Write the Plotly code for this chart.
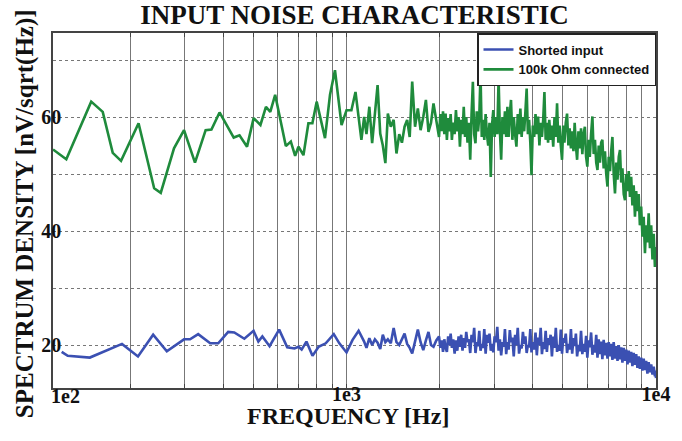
import plotly.graph_objects as go

# ---------------- data ----------------
green_low_freq = [112.6, 124.3, 149.6, 163, 175.6, 186.8, 212.8, 239, 251, 277,
                  298.5, 323.8, 350.5, 366, 388.8, 432, 451, 477, 501, 527,
                  549, 567, 588, 636.6, 660.7, 682.3, 699.3, 725.7, 753, 775.7,
                  800.8, 852, 884.4, 917.6, 963.6, 1000, 1037, 1069, 1117]
green_low_vals = [54.3, 52.6, 62.7, 60.9, 53.7, 52.3, 58.9, 47.5, 46.7, 54.5,
                  57.7, 52.0, 57.7, 57.8, 60.8, 56.4, 56.8, 54.8, 59.8, 58.6,
                  61.8, 60.9, 63.9, 54.9, 55.7, 53.2, 54.8, 53.3, 58.9, 58.9,
                  62.7, 56.3, 63.9, 68.2, 58.6, 61.2, 61.2, 64.4, 56.0]

blue_low_freq = [120.1, 125.6, 148.1, 188.1, 211.9, 237.2, 262.6, 298.5, 312.1, 331.6,
                 362.6, 385, 414.6, 433.8, 467.5, 500.6, 518.9, 534.6, 564.1, 605.7,
                 643.3, 678.9, 699.3, 716.1, 742, 776.2, 812.3, 856.6, 909.6, 947.9,
                 1000, 1046, 1094]
blue_low_vals = [18.8, 18.1, 17.8, 20.2, 18.0, 21.8, 18.9, 21.0, 21.0, 21.9,
                 20.3, 20.3, 22.3, 22.2, 21.1, 22.5, 20.6, 21.5, 19.8, 22.7,
                 19.6, 19.4, 19.7, 19.2, 20.6, 18.1, 19.7, 20.3, 21.9, 20.3,
                 18.7, 20.9, 22.5]

mid_freq = [1140, 1160, 1185, 1210, 1235, 1260, 1285, 1310, 1335, 1360,
            1390, 1420, 1450, 1480, 1510, 1540, 1570, 1600, 1630, 1665,
            1700, 1735, 1770, 1805, 1840, 1875, 1910, 1950]
green_mid_vals = [60.0, 57.0, 61.8, 55.4, 60.0, 65.6, 57.1, 55.0, 51.9, 60.6,
                  58.3, 59.5, 53.6, 57.0, 55.5, 58.3, 59.5, 56.5, 66.2, 58.3,
                  61.5, 57.7, 60.0, 63.0, 57.4, 59.0, 62.4, 59.2]
blue_mid_vals = [20.6, 19.5, 21.2, 20.0, 21.0, 20.4, 19.3, 21.8, 20.5, 21.0,
                 20.3, 23.0, 20.5, 20.0, 21.0, 22.0, 20.2, 19.5, 18.5, 20.5,
                 22.7, 20.5, 19.1, 20.8, 22.3, 20.0, 19.7, 20.8]

hi_freq = [1990, 2010, 2030, 2050, 2070, 2090, 2110, 2130, 2150, 2170,
           2190, 2212, 2235, 2257, 2280, 2302, 2325, 2347, 2370, 2392,
           2415, 2437, 2460, 2485, 2510, 2535, 2560, 2585, 2610, 2635,
           2660, 2685, 2710, 2735, 2760, 2787, 2815, 2842, 2870, 2897,
           2925, 2952, 2980, 3010, 3040, 3070, 3100, 3130, 3160, 3190,
           3220, 3250, 3280, 3310, 3340, 3370, 3400, 3435, 3470, 3505,
           3540, 3575, 3610, 3645, 3680, 3715, 3750, 3785, 3820, 3855,
           3890, 3925, 3960, 4000, 4040, 4080, 4120, 4160, 4200, 4240,
           4280, 4320, 4360, 4400, 4440, 4480, 4520, 4565, 4610, 4655,
           4700, 4745, 4790, 4835, 4880, 4925, 4970, 5015, 5060, 5110,
           5160, 5210, 5260, 5310, 5360, 5410, 5460, 5510, 5560, 5615,
           5670, 5725, 5780, 5835, 5890, 5945, 6000, 6055, 6110, 6170,
           6230, 6290, 6350, 6410, 6470, 6530, 6590, 6650, 6710, 6775,
           6840, 6905, 6970, 7035, 7100, 7165, 7230, 7300, 7370, 7440,
           7510, 7580, 7650, 7720, 7790, 7865, 7940, 8015, 8090, 8165,
           8240, 8315, 8390, 8470, 8550, 8630, 8710, 8790, 8870, 8955,
           9040, 9125, 9210, 9295, 9380, 9470, 9560, 9650, 9740, 9830,
           9920, 9960, 10000]
green_hi_vals = [56.5, 60.5, 57.5, 61.0, 57.0, 60.6, 56.0, 59.8, 57.5, 60.5,
                 56.0, 59.0, 57.0, 61.2, 57.5, 60.0, 54.8, 59.5, 57.0, 61.8,
                 56.5, 60.0, 55.5, 59.0, 52.5, 60.5, 66.2, 57.0, 55.4, 61.0,
                 57.5, 60.0, 67.7, 56.5, 59.5, 56.0, 60.5, 57.0, 55.0, 59.0,
                 49.5, 58.5, 61.2, 56.5, 60.0, 57.0, 66.8, 57.5, 52.5, 60.0,
                 57.0, 61.0, 56.5, 61.8, 56.5, 60.5, 63.0, 56.0, 60.0, 57.0,
                 54.8, 60.5, 57.0, 61.5, 56.5, 60.0, 57.5, 61.0, 65.0, 57.0,
                 59.5, 55.5, 49.8, 58.5, 56.5, 60.5, 57.0, 60.1, 55.0, 59.0,
                 56.5, 59.5, 64.4, 56.0, 59.0, 55.5, 59.5, 56.0, 58.5, 54.8,
                 60.0, 56.5, 62.4, 55.5, 58.5, 55.0, 52.5, 58.5, 55.5, 59.0,
                 60.6, 55.0, 58.0, 54.5, 57.5, 54.0, 59.0, 55.0, 52.5, 57.5,
                 54.5, 58.0, 53.5, 57.0, 58.3, 53.0, 51.3, 56.0, 53.0, 57.0,
                 60.1, 53.5, 56.0, 52.0, 50.7, 55.0, 52.0, 55.5, 56.0, 51.0,
                 54.0, 50.0, 47.8, 53.0, 50.5, 54.0, 56.5, 50.0, 46.6, 52.0,
                 49.0, 53.0, 54.2, 48.5, 51.0, 46.5, 45.4, 50.0, 47.0, 50.5,
                 46.0, 49.5, 44.5, 48.0, 42.5, 47.0, 43.5, 46.5, 41.0, 44.3,
                 39.0, 42.5, 36.1, 41.0, 38.0, 43.1, 37.0, 41.0, 35.0, 39.5,
                 33.7, 36.0, 37.2]
blue_hi_vals = [21.5, 19.5, 20.8, 18.8, 21.0, 19.5, 18.8, 21.5, 20.0, 22.0,
                19.5, 21.0, 18.5, 20.8, 19.0, 21.5, 19.7, 21.8, 19.0, 21.2,
                19.5, 22.3, 20.5, 21.0, 18.6, 21.8, 20.5, 23.0, 18.6, 20.5,
                19.8, 22.5, 19.0, 20.2, 19.5, 22.8, 18.5, 21.8, 20.4, 22.0,
                19.0, 20.2, 18.7, 21.5, 20.5, 23.2, 19.0, 21.0, 18.2, 20.5,
                19.7, 22.8, 18.4, 20.5, 19.2, 22.6, 20.5, 21.3, 18.0, 21.8,
                20.0, 23.0, 18.5, 20.0, 19.4, 22.3, 20.2, 21.5, 18.6, 20.0,
                19.6, 22.8, 18.7, 20.5, 19.2, 22.2, 18.2, 21.3, 20.0, 23.0,
                18.4, 20.5, 19.3, 22.5, 18.8, 21.2, 20.0, 21.8, 18.0, 21.5,
                19.5, 23.0, 18.8, 20.0, 19.0, 22.7, 18.5, 21.2, 20.4, 22.0,
                18.6, 20.2, 19.2, 22.8, 18.5, 21.2, 19.8, 22.0, 18.0, 20.0,
                18.9, 22.5, 18.4, 20.2, 18.8, 21.6, 17.8, 20.8, 19.6, 22.2,
                18.3, 20.0, 18.7, 21.8, 17.8, 21.0, 18.4, 20.6, 17.5, 20.9,
                18.2, 20.4, 17.6, 20.5, 18.0, 20.2, 17.4, 20.5, 17.6, 19.8,
                17.2, 20.0, 17.5, 19.6, 16.9, 19.5, 17.2, 19.2, 16.6, 19.0,
                16.9, 18.8, 16.3, 18.6, 16.5, 18.4, 16.0, 18.0, 15.8, 17.8,
                15.5, 17.6, 15.6, 17.2, 15.0, 17.0, 15.2, 16.6, 14.8, 16.2,
                14.5, 15.5, 14.2]

series_names = ["Shorted input", "100k Ohm connected"]
x_grid_vals = [200, 300, 400, 500, 600, 700, 800, 900, 1000,
               2000, 3000, 4000, 5000, 6000, 7000, 8000, 9000, 10000]
x_grid_text = ["", "", "", "", "", "", "", "", "1e3",
               "", "", "", "", "", "", "", "", "1e4"]
y_grid_vals = [20, 30, 40, 50, 60, 70]
y_grid_text = ["20", "", "40", "", "60", ""]

# ---------------- figure ----------------
BLUE = "#3B50B2"
GREEN = "#1F8B3C"
SERIF = "Liberation Serif"

fig = go.Figure()
fig.add_trace(go.Scatter(x=blue_low_freq + mid_freq + hi_freq,
                         y=blue_low_vals + blue_mid_vals + blue_hi_vals,
                         mode="lines", name=series_names[0],
                         line=dict(color=BLUE, width=2.6)))
fig.add_trace(go.Scatter(x=green_low_freq + mid_freq + hi_freq,
                         y=green_low_vals + green_mid_vals + green_hi_vals,
                         mode="lines", name=series_names[1],
                         line=dict(color=GREEN, width=2.6)))

fig.update_layout(
    width=682, height=441,
    margin=dict(l=53, r=23, t=33, b=53),
    paper_bgcolor="white", plot_bgcolor="white",
    title=dict(text="INPUT NOISE CHARACTERISTIC", x=0.5, xref="paper", xanchor="center",
               y=1 - 15 / 441, yref="container", yanchor="middle",
               font=dict(family=SERIF, size=27, color="#111", weight="bold")),
    legend=dict(x=1, y=1, xanchor="right", yanchor="top",
                bgcolor="white", bordercolor="#222", borderwidth=1.5,
                font=dict(family="Liberation Sans", size=13, color="#111", weight="bold"),
                itemwidth=30, tracegroupgap=0),
    showlegend=True,
)

fig.update_xaxes(type="log", range=[2.0515, 4.0],
                 tickmode="array", tickvals=x_grid_vals, ticktext=x_grid_text,
                 showgrid=True, gridcolor="#777", gridwidth=1,
                 showline=True, linecolor="#444", linewidth=1.5, mirror="ticks",
                 ticks="inside", ticklen=4, tickcolor="#444", ticklabelstandoff=-13,
                 tickfont=dict(family=SERIF, size=20, color="#111", weight="bold"),
                 zeroline=False)
fig.update_yaxes(range=[12.46, 74.74],
                 tickmode="array", tickvals=y_grid_vals, ticktext=y_grid_text,
                 showgrid=True, gridcolor="#777", gridwidth=1, griddash="dot",
                 showline=True, linecolor="#444", linewidth=1.5, mirror=True,
                 ticks="", ticklabelstandoff=-14,
                 tickfont=dict(family=SERIF, size=20, color="#111", weight="bold"),
                 zeroline=False)

# axis titles and the left-edge tick label
fig.add_annotation(text="SPECTRUM DENSITY [nV/sqrt(Hz)]", textangle=-90,
                   xref="paper", yref="paper", x=(25 - 53) / 606, y=0.49,
                   xanchor="center", yanchor="middle", showarrow=False,
                   font=dict(family=SERIF, size=25, color="#111", weight="bold"))
fig.add_annotation(text="FREQUENCY [Hz]",
                   xref="paper", yref="paper", x=0.49, y=(441 - 416 - 53) / 355,
                   xanchor="center", yanchor="middle", showarrow=False,
                   font=dict(family=SERIF, size=24, color="#111", weight="bold"))
fig.add_annotation(text="1e2", xref="paper", yref="paper", x=0, y=0,
                   xanchor="left", yanchor="top", xshift=-4, yshift=5, showarrow=False,
                   font=dict(family=SERIF, size=20, color="#111", weight="bold"))

fig.write_html("out.html")
